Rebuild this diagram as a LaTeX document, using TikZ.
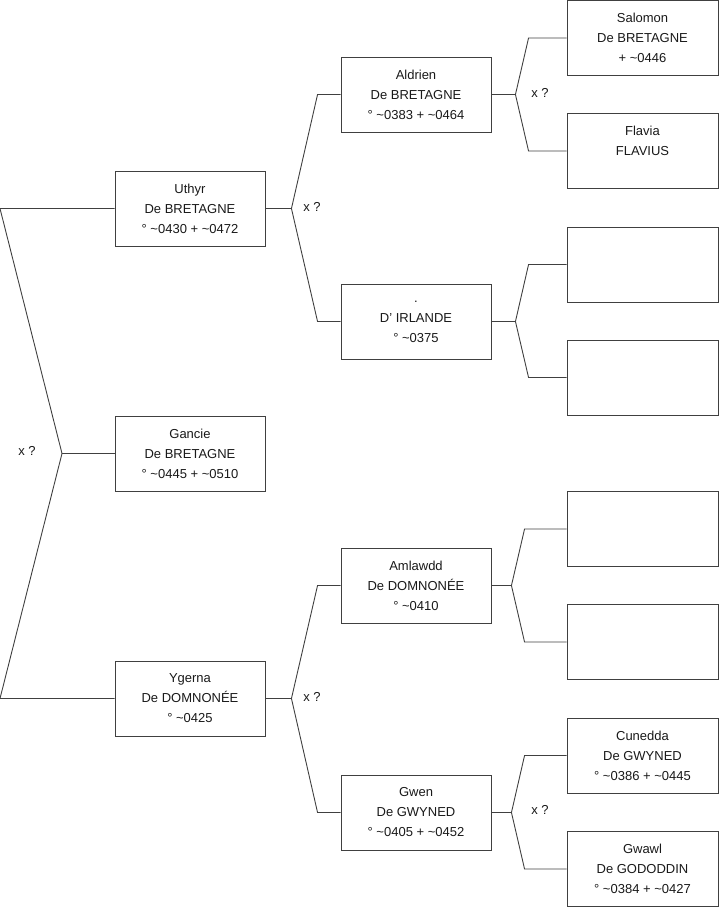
\documentclass[tikz,border=0pt]{standalone}
\usepackage{fontspec}
\setmainfont{Liberation Sans}
\usetikzlibrary{calc}
\newcommand{\ca}{\textasciitilde}

\begin{document}
\begin{tikzpicture}[x=1pt, y=-1pt, font=\fontsize{13}{20}\selectfont,
  person/.style={draw=black!75, line width=0.9pt, minimum width=150pt, minimum height=75pt, inner sep=0pt, align=center, text=black!90},
  link/.style={draw=black!75, line width=0.9pt},
  xq/.style={text=black!90}]
\useasboundingbox (0,0) rectangle (719,908);
% ================= generation 1 =================
\node[person] (uthyr) at (190,208.5) {Uthyr\\De BRETAGNE\\° \ca0430 + \ca0472};
\node[person] (gancie) at (190,453.5) {Gancie\\De BRETAGNE\\° \ca0445 + \ca0510};
\node[person] (ygerna) at (190,698.5) {Ygerna\\De DOMNONÉE\\° \ca0425};
% ================= generation 2 =================
\node[person] (aldrien) at (416,94.5) {Aldrien\\De BRETAGNE\\° \ca0383 + \ca0464};
\node[person] (irlande) at (416,321.5) {.\\D' IRLANDE\\° \ca0375};
\node[person] (amlawdd) at (416,585.5) {Amlawdd\\De DOMNONÉE\\° \ca0410};
\node[person] (gwen) at (416,812.5) {Gwen\\De GWYNED\\° \ca0405 + \ca0452};
% ================= generation 3 =================
\foreach \i/\y/\t in {1/38/{Salomon\\De BRETAGNE\\+ \ca0446}, 2/151/{Flavia\\FLAVIUS\\\mbox{}}, 3/264.5/{}, 4/377.5/{}, 5/529/{}, 6/642/{}, 7/755.5/{Cunedda\\De GWYNED\\° \ca0386 + \ca0445}, 8/869/{Gwawl\\De GODODDIN\\° \ca0384 + \ca0427}}{\node[person, minimum width=151pt] (g\i) at (642.5,\y) {\t};}
% ================= connectors =================
\coordinate (edge) at (0,0);
\coordinate (j0) at (62,453.5);
\draw[link] (uthyr.west) -- (uthyr.west -| edge) -- (j0) -- (ygerna.west -| edge) -- (ygerna.west);
\draw[link] (j0) -- (gancie.west);
\foreach \p/\a/\b in {uthyr/aldrien/irlande, ygerna/amlawdd/gwen}{
  \draw[link] (\p.east) -- ++(26,0) coordinate (\p-k) -- ([xshift=-23pt]\a.west) -- (\a.west);
  \draw[link] (\p-k) -- ([xshift=-23pt]\b.west) -- (\b.west);
}
\foreach \p/\a/\b/\d/\e in {aldrien/g1/g2/24/38, irlande/g3/g4/24/38, amlawdd/g5/g6/20/42, gwen/g7/g8/20/42}{
  \draw[link] (\p.east) -- ++(\d,0) coordinate (\p-k) -- ([xshift=-\e pt]\a.west) -- (\a.west);
  \draw[link] (\p-k) -- ([xshift=-\e pt]\b.west) -- (\b.west);
}
% ================= x ? marks =================
\node[xq] (x0) at (27,451) {x ?};
\node[xq] (x1) at (312,207) {x ?};
\node[xq] (x2) at (540,93) {x ?};
\node[xq] (x3) at (312,697) {x ?};
\node[xq] (x4) at (540,810) {x ?};
\end{tikzpicture}
\end{document}
